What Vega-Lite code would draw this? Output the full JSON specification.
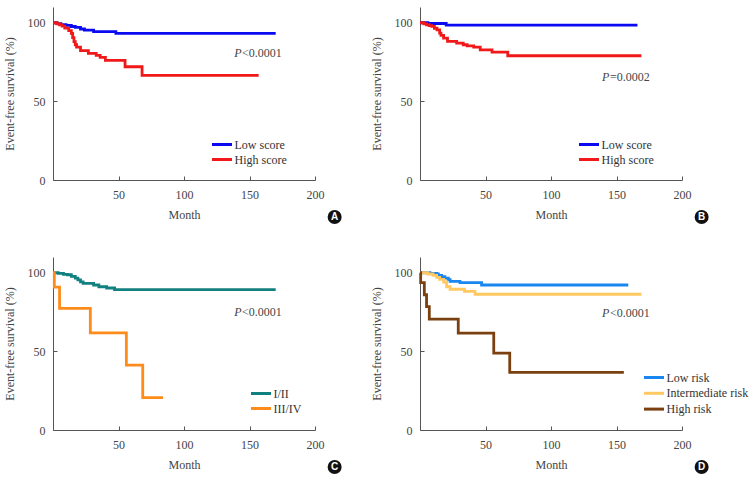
{
 "$schema": "https://vega.github.io/schema/vega-lite/v6.json",
 "autosize": {"type": "pad"},
 "padding": {"left": 3, "top": 7, "right": 0, "bottom": 0},
 "background": "white",
 "config": {
  "view": {"stroke": null},
  "axis": {"domainColor": "#555", "tickColor": "#555", "labelColor": "#444", "titleColor": "#444", "labelFont": "Liberation Serif", "titleFont": "Liberation Serif", "labelFontSize": 12, "titleFontSize": 12, "titleFontWeight": "normal", "grid": false, "tickSize": -4, "domainWidth": 1, "tickWidth": 1, "labelFlush": false},
  "axisX": {"labelPadding": 13, "titlePadding": 9},
  "axisY": {"labelPadding": 12, "titlePadding": 11},
  "legend": {"orient": "none", "title": null, "padding": 0, "labelFont": "Liberation Serif", "labelFontSize": 12, "labelColor": "#333", "symbolType": "M-1.33,0H1.33", "symbolSize": 225, "symbolStrokeWidth": 3, "labelOffset": 3.5, "rowPadding": 0},
  "text": {"font": "Liberation Serif", "fontSize": 12, "color": "#444"}
 },
 "datasets": {
  "km": [
   {"panel":"A","group":"Low score","month":0,"surv":100},{"panel":"A","group":"Low score","month":3,"surv":99.4},{"panel":"A","group":"Low score","month":6,"surv":98.8},{"panel":"A","group":"Low score","month":10,"surv":98.3},{"panel":"A","group":"Low score","month":14,"surv":97.6},{"panel":"A","group":"Low score","month":17,"surv":97},{"panel":"A","group":"Low score","month":21,"surv":96},{"panel":"A","group":"Low score","month":24,"surv":95.3},{"panel":"A","group":"Low score","month":31,"surv":94.3},{"panel":"A","group":"Low score","month":48,"surv":93.2},{"panel":"A","group":"Low score","month":170,"surv":93.2},
   {"panel":"A","group":"High score","month":0,"surv":100},{"panel":"A","group":"High score","month":3,"surv":99.3},{"panel":"A","group":"High score","month":5,"surv":98.6},{"panel":"A","group":"High score","month":7,"surv":97.8},{"panel":"A","group":"High score","month":9,"surv":96.6},{"panel":"A","group":"High score","month":12,"surv":95},{"panel":"A","group":"High score","month":14,"surv":93.2},{"panel":"A","group":"High score","month":15,"surv":90.5},{"panel":"A","group":"High score","month":16,"surv":88},{"panel":"A","group":"High score","month":17,"surv":86},{"panel":"A","group":"High score","month":18,"surv":84.5},{"panel":"A","group":"High score","month":21,"surv":82.2},{"panel":"A","group":"High score","month":27,"surv":80.5},{"panel":"A","group":"High score","month":33,"surv":79.2},{"panel":"A","group":"High score","month":36,"surv":78},{"panel":"A","group":"High score","month":40,"surv":76},{"panel":"A","group":"High score","month":55,"surv":72},{"panel":"A","group":"High score","month":68,"surv":66.5},{"panel":"A","group":"High score","month":157,"surv":66.5},
   {"panel":"B","group":"Low score","month":0,"surv":100},{"panel":"B","group":"Low score","month":6,"surv":99.5},{"panel":"B","group":"Low score","month":20,"surv":98.5},{"panel":"B","group":"Low score","month":166,"surv":98.5},
   {"panel":"B","group":"High score","month":0,"surv":100},{"panel":"B","group":"High score","month":3,"surv":99.3},{"panel":"B","group":"High score","month":5,"surv":98.7},{"panel":"B","group":"High score","month":7,"surv":98.2},{"panel":"B","group":"High score","month":9,"surv":97.7},{"panel":"B","group":"High score","month":11,"surv":96.5},{"panel":"B","group":"High score","month":13,"surv":95.5},{"panel":"B","group":"High score","month":15,"surv":93.4},{"panel":"B","group":"High score","month":16,"surv":92},{"panel":"B","group":"High score","month":18,"surv":90.2},{"panel":"B","group":"High score","month":21,"surv":88.1},{"panel":"B","group":"High score","month":28,"surv":87},{"panel":"B","group":"High score","month":33,"surv":86},{"panel":"B","group":"High score","month":36,"surv":85.3},{"panel":"B","group":"High score","month":41,"surv":84.5},{"panel":"B","group":"High score","month":46,"surv":82.8},{"panel":"B","group":"High score","month":55,"surv":81.3},{"panel":"B","group":"High score","month":67,"surv":79},{"panel":"B","group":"High score","month":169,"surv":79},
   {"panel":"C","group":"I/II","month":0,"surv":100},{"panel":"C","group":"I/II","month":4,"surv":99.6},{"panel":"C","group":"I/II","month":8,"surv":99},{"panel":"C","group":"I/II","month":11,"surv":98.7},{"panel":"C","group":"I/II","month":14,"surv":97.7},{"panel":"C","group":"I/II","month":17,"surv":96.6},{"panel":"C","group":"I/II","month":19,"surv":95.5},{"panel":"C","group":"I/II","month":21,"surv":94.2},{"panel":"C","group":"I/II","month":23,"surv":93.2},{"panel":"C","group":"I/II","month":31,"surv":92.2},{"panel":"C","group":"I/II","month":35,"surv":91.1},{"panel":"C","group":"I/II","month":41,"surv":90.3},{"panel":"C","group":"I/II","month":47,"surv":89.2},{"panel":"C","group":"I/II","month":170,"surv":89.2},
   {"panel":"C","group":"III/IV","month":0,"surv":100},{"panel":"C","group":"III/IV","month":1,"surv":90.9},{"panel":"C","group":"III/IV","month":5,"surv":77.3},{"panel":"C","group":"III/IV","month":28.5,"surv":61.8},{"panel":"C","group":"III/IV","month":56,"surv":41.2},{"panel":"C","group":"III/IV","month":68.5,"surv":20.6},{"panel":"C","group":"III/IV","month":84,"surv":20.6},
   {"panel":"D","group":"Low risk","month":0,"surv":100},{"panel":"D","group":"Low risk","month":7.6,"surv":99.6},{"panel":"D","group":"Low risk","month":12.7,"surv":99.2},{"panel":"D","group":"Low risk","month":14,"surv":98.3},{"panel":"D","group":"Low risk","month":16.5,"surv":97.5},{"panel":"D","group":"Low risk","month":19,"surv":96.6},{"panel":"D","group":"Low risk","month":21.6,"surv":95.6},{"panel":"D","group":"Low risk","month":23,"surv":94.5},{"panel":"D","group":"Low risk","month":30.5,"surv":93.7},{"panel":"D","group":"Low risk","month":47,"surv":92.2},{"panel":"D","group":"Low risk","month":159,"surv":92.2},
   {"panel":"D","group":"Intermediate risk","month":0,"surv":100},{"panel":"D","group":"Intermediate risk","month":6,"surv":99.2},{"panel":"D","group":"Intermediate risk","month":10,"surv":98.3},{"panel":"D","group":"Intermediate risk","month":12.7,"surv":97},{"panel":"D","group":"Intermediate risk","month":15,"surv":95.8},{"panel":"D","group":"Intermediate risk","month":18,"surv":94.1},{"panel":"D","group":"Intermediate risk","month":20.3,"surv":91.1},{"panel":"D","group":"Intermediate risk","month":23,"surv":89.5},{"panel":"D","group":"Intermediate risk","month":34,"surv":88.2},{"panel":"D","group":"Intermediate risk","month":42,"surv":86.3},{"panel":"D","group":"Intermediate risk","month":169,"surv":86.3},
   {"panel":"D","group":"High risk","month":0,"surv":100},{"panel":"D","group":"High risk","month":0.5,"surv":93.7},{"panel":"D","group":"High risk","month":3.3,"surv":86},{"panel":"D","group":"High risk","month":5,"surv":78.5},{"panel":"D","group":"High risk","month":7.1,"surv":70.5},{"panel":"D","group":"High risk","month":29.2,"surv":61.6},{"panel":"D","group":"High risk","month":56.3,"surv":48.9},{"panel":"D","group":"High risk","month":68.5,"surv":36.7},{"panel":"D","group":"High risk","month":155.6,"surv":36.7}
  ],
  "ann": [
   {"panel":"A","month":143.9,"surv":80.8,"ptext":"<0.0001","letter":"A"},
   {"panel":"B","month":144.6,"surv":65.4,"ptext":"=0.0002","letter":"B"},
   {"panel":"C","month":143.9,"surv":75.3,"ptext":"<0.0001","letter":"C"},
   {"panel":"D","month":144.6,"surv":74.2,"ptext":"<0.0001","letter":"D"}
  ],
  "tags": [
   {"panel":"A","month":215,"surv":-23.5,"letter":"A"},
   {"panel":"B","month":215,"surv":-23.5,"letter":"B"},
   {"panel":"C","month":215,"surv":-23.5,"letter":"C"},
   {"panel":"D","month":215,"surv":-23.5,"letter":"D"}
  ]
 },
 "columns": 2,
 "spacing": {"row": 77, "column": 105},
 "bounds": "flush",
 "resolve": {"scale": {"color": "independent", "x": "independent", "y": "independent"}, "legend": {"color": "independent"}},
 "concat": [
   {"width": 262, "height": 173, "layer": [
    {"data": {"name": "km"}, "transform": [{"filter": "datum.panel === 'A'"}], "mark": {"type": "line", "interpolate": "step-after", "strokeWidth": 2.8},
     "encoding": {"x": {"field": "month", "type": "quantitative", "title": "Month", "scale": {"domain": [0, 200], "nice": false}, "axis": {"values": [50, 100, 150, 200]}},
      "y": {"field": "surv", "type": "quantitative", "title": "Event-free survival (%)", "scale": {"domain": [0, 110], "nice": false}, "axis": {"values": [0, 50, 100]}},
      "color": {"field": "group", "type": "nominal", "scale": {"domain": ["Low score", "High score"], "range": ["#0a0af0", "#f01818"]}, "legend": {"legendX": 160, "legendY": 128.5}}}},
    {"data": {"name": "ann"}, "transform": [{"filter": "datum.panel === 'A'"}], "mark": {"type": "text", "align": "right", "baseline": "middle", "fontStyle": "italic", "text": "P"},
     "encoding": {"x": {"field": "month", "type": "quantitative", "title": "Month"}, "y": {"field": "surv", "type": "quantitative", "title": "Event-free survival (%)"}}},
    {"data": {"name": "ann"}, "transform": [{"filter": "datum.panel === 'A'"}], "mark": {"type": "text", "align": "left", "baseline": "middle", "dx": 0.5},
     "encoding": {"x": {"field": "month", "type": "quantitative", "title": "Month"}, "y": {"field": "surv", "type": "quantitative", "title": "Event-free survival (%)"}, "text": {"field": "ptext"}}},
    {"data": {"name": "tags"}, "transform": [{"filter": "datum.panel === 'A'"}], "mark": {"type": "point", "shape": "circle", "filled": true, "color": "#111", "size": 196, "opacity": 1},
     "encoding": {"x": {"field": "month", "type": "quantitative", "title": "Month"}, "y": {"field": "surv", "type": "quantitative", "title": "Event-free survival (%)"}}},
    {"data": {"name": "tags"}, "transform": [{"filter": "datum.panel === 'A'"}], "mark": {"type": "text", "align": "center", "baseline": "middle", "font": "Liberation Sans", "fontWeight": "bold", "fontSize": 10, "color": "white", "dy": 0.5},
     "encoding": {"x": {"field": "month", "type": "quantitative", "title": "Month"}, "y": {"field": "surv", "type": "quantitative", "title": "Event-free survival (%)"}, "text": {"field": "letter"}}}
   ]},
   {"width": 262, "height": 173, "layer": [
    {"data": {"name": "km"}, "transform": [{"filter": "datum.panel === 'B'"}], "mark": {"type": "line", "interpolate": "step-after", "strokeWidth": 2.8},
     "encoding": {"x": {"field": "month", "type": "quantitative", "title": "Month", "scale": {"domain": [0, 200], "nice": false}, "axis": {"values": [50, 100, 150, 200]}},
      "y": {"field": "surv", "type": "quantitative", "title": "Event-free survival (%)", "scale": {"domain": [0, 110], "nice": false}, "axis": {"values": [0, 50, 100]}},
      "color": {"field": "group", "type": "nominal", "scale": {"domain": ["Low score", "High score"], "range": ["#0a0af0", "#f01818"]}, "legend": {"legendX": 160, "legendY": 128.5}}}},
    {"data": {"name": "ann"}, "transform": [{"filter": "datum.panel === 'B'"}], "mark": {"type": "text", "align": "right", "baseline": "middle", "fontStyle": "italic", "text": "P"},
     "encoding": {"x": {"field": "month", "type": "quantitative", "title": "Month"}, "y": {"field": "surv", "type": "quantitative", "title": "Event-free survival (%)"}}},
    {"data": {"name": "ann"}, "transform": [{"filter": "datum.panel === 'B'"}], "mark": {"type": "text", "align": "left", "baseline": "middle", "dx": 0.5},
     "encoding": {"x": {"field": "month", "type": "quantitative", "title": "Month"}, "y": {"field": "surv", "type": "quantitative", "title": "Event-free survival (%)"}, "text": {"field": "ptext"}}},
    {"data": {"name": "tags"}, "transform": [{"filter": "datum.panel === 'B'"}], "mark": {"type": "point", "shape": "circle", "filled": true, "color": "#111", "size": 196, "opacity": 1},
     "encoding": {"x": {"field": "month", "type": "quantitative", "title": "Month"}, "y": {"field": "surv", "type": "quantitative", "title": "Event-free survival (%)"}}},
    {"data": {"name": "tags"}, "transform": [{"filter": "datum.panel === 'B'"}], "mark": {"type": "text", "align": "center", "baseline": "middle", "font": "Liberation Sans", "fontWeight": "bold", "fontSize": 10, "color": "white", "dy": 0.5},
     "encoding": {"x": {"field": "month", "type": "quantitative", "title": "Month"}, "y": {"field": "surv", "type": "quantitative", "title": "Event-free survival (%)"}, "text": {"field": "letter"}}}
   ]},
   {"width": 262, "height": 173, "layer": [
    {"data": {"name": "km"}, "transform": [{"filter": "datum.panel === 'C'"}], "mark": {"type": "line", "interpolate": "step-after", "strokeWidth": 2.8},
     "encoding": {"x": {"field": "month", "type": "quantitative", "title": "Month", "scale": {"domain": [0, 200], "nice": false}, "axis": {"values": [50, 100, 150, 200]}},
      "y": {"field": "surv", "type": "quantitative", "title": "Event-free survival (%)", "scale": {"domain": [0, 110], "nice": false}, "axis": {"values": [0, 50, 100]}},
      "color": {"field": "group", "type": "nominal", "scale": {"domain": ["I/II", "III/IV"], "range": ["#138080", "#ff8c1a"]}, "legend": {"legendX": 199, "legendY": 127.5}}}},
    {"data": {"name": "ann"}, "transform": [{"filter": "datum.panel === 'C'"}], "mark": {"type": "text", "align": "right", "baseline": "middle", "fontStyle": "italic", "text": "P"},
     "encoding": {"x": {"field": "month", "type": "quantitative", "title": "Month"}, "y": {"field": "surv", "type": "quantitative", "title": "Event-free survival (%)"}}},
    {"data": {"name": "ann"}, "transform": [{"filter": "datum.panel === 'C'"}], "mark": {"type": "text", "align": "left", "baseline": "middle", "dx": 0.5},
     "encoding": {"x": {"field": "month", "type": "quantitative", "title": "Month"}, "y": {"field": "surv", "type": "quantitative", "title": "Event-free survival (%)"}, "text": {"field": "ptext"}}},
    {"data": {"name": "tags"}, "transform": [{"filter": "datum.panel === 'C'"}], "mark": {"type": "point", "shape": "circle", "filled": true, "color": "#111", "size": 196, "opacity": 1},
     "encoding": {"x": {"field": "month", "type": "quantitative", "title": "Month"}, "y": {"field": "surv", "type": "quantitative", "title": "Event-free survival (%)"}}},
    {"data": {"name": "tags"}, "transform": [{"filter": "datum.panel === 'C'"}], "mark": {"type": "text", "align": "center", "baseline": "middle", "font": "Liberation Sans", "fontWeight": "bold", "fontSize": 10, "color": "white", "dy": 0.5},
     "encoding": {"x": {"field": "month", "type": "quantitative", "title": "Month"}, "y": {"field": "surv", "type": "quantitative", "title": "Event-free survival (%)"}, "text": {"field": "letter"}}}
   ]},
   {"width": 262, "height": 173, "layer": [
    {"data": {"name": "km"}, "transform": [{"filter": "datum.panel === 'D'"}], "mark": {"type": "line", "interpolate": "step-after", "strokeWidth": 2.8},
     "encoding": {"x": {"field": "month", "type": "quantitative", "title": "Month", "scale": {"domain": [0, 200], "nice": false}, "axis": {"values": [50, 100, 150, 200]}},
      "y": {"field": "surv", "type": "quantitative", "title": "Event-free survival (%)", "scale": {"domain": [0, 110], "nice": false}, "axis": {"values": [0, 50, 100]}},
      "color": {"field": "group", "type": "nominal", "scale": {"domain": ["Low risk", "Intermediate risk", "High risk"], "range": ["#1a86f0", "#ffc860", "#7b4010"]}, "legend": {"legendX": 225, "legendY": 111.5, "rowPadding": 0.8}}}},
    {"data": {"name": "ann"}, "transform": [{"filter": "datum.panel === 'D'"}], "mark": {"type": "text", "align": "right", "baseline": "middle", "fontStyle": "italic", "text": "P"},
     "encoding": {"x": {"field": "month", "type": "quantitative", "title": "Month"}, "y": {"field": "surv", "type": "quantitative", "title": "Event-free survival (%)"}}},
    {"data": {"name": "ann"}, "transform": [{"filter": "datum.panel === 'D'"}], "mark": {"type": "text", "align": "left", "baseline": "middle", "dx": 0.5},
     "encoding": {"x": {"field": "month", "type": "quantitative", "title": "Month"}, "y": {"field": "surv", "type": "quantitative", "title": "Event-free survival (%)"}, "text": {"field": "ptext"}}},
    {"data": {"name": "tags"}, "transform": [{"filter": "datum.panel === 'D'"}], "mark": {"type": "point", "shape": "circle", "filled": true, "color": "#111", "size": 196, "opacity": 1},
     "encoding": {"x": {"field": "month", "type": "quantitative", "title": "Month"}, "y": {"field": "surv", "type": "quantitative", "title": "Event-free survival (%)"}}},
    {"data": {"name": "tags"}, "transform": [{"filter": "datum.panel === 'D'"}], "mark": {"type": "text", "align": "center", "baseline": "middle", "font": "Liberation Sans", "fontWeight": "bold", "fontSize": 10, "color": "white", "dy": 0.5},
     "encoding": {"x": {"field": "month", "type": "quantitative", "title": "Month"}, "y": {"field": "surv", "type": "quantitative", "title": "Event-free survival (%)"}, "text": {"field": "letter"}}}
   ]}
 ]
}
